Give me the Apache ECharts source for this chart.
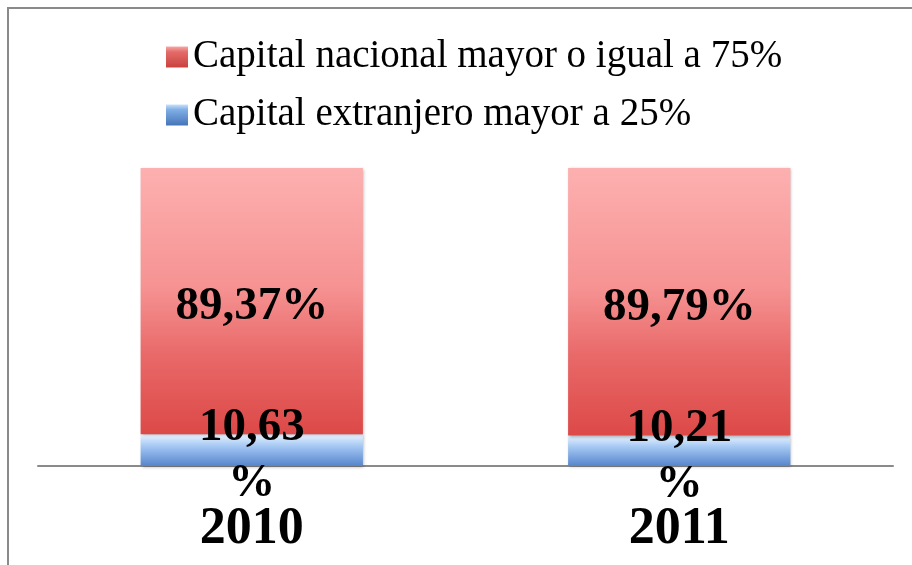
<!DOCTYPE html>
<html><head><meta charset="utf-8">
<script src="https://cdn.jsdelivr.net/npm/echarts@6/dist/echarts.min.js"></script>
<style>html,body{margin:0;padding:0;background:#fff}#c{width:912px;height:565px}</style>
</head><body><div id="c"></div>
<script>
const categories = ['2010', '2011'];
const nacional = [89.37, 89.79];
const extranjero = [10.63, 10.21];
const seriesNames = ['Capital nacional mayor o igual a 75%', 'Capital extranjero mayor a 25%'];

const fmt = v => v.toFixed(2).replace('.', ',');
const chart = echarts.init(document.getElementById('c'));
const G = echarts.graphic.LinearGradient;
const redGrad = new G(0, 0, 0, 1, [
  {offset: 0, color: '#FDB0B0'}, {offset: 0.45, color: '#F69292'},
  {offset: 0.7, color: '#E96969'}, {offset: 1, color: '#DC4947'}]);
const blueGrad = new G(0, 0, 0, 1, [
  {offset: 0, color: '#EAF4FF'}, {offset: 0.35, color: '#A8CAF4'}, {offset: 1, color: '#5585CC'}]);
const redIcon = new G(0, 0, 0, 1, [
  {offset: 0, color: '#F6A9A7'}, {offset: 0.25, color: '#E46C69'}, {offset: 1, color: '#C9423F'}]);
const blueIcon = new G(0, 0, 0, 1, [
  {offset: 0, color: '#C9E0FA'}, {offset: 0.25, color: '#80AEE6'}, {offset: 1, color: '#4475B8'}]);
const font = 'Liberation Serif';
chart.setOption({
  animation: false,
  graphic: [{type: 'rect', shape: {x: 8, y: 8, width: 1000, height: 1000},
    style: {fill: 'none', stroke: '#8a8a8a', lineWidth: 2}, silent: true}],
  legend: {
    orient: 'vertical', left: 161, top: 32, itemWidth: 22, itemHeight: 21, itemGap: 18,
    data: [{name: seriesNames[0], itemStyle: {color: redIcon}},
           {name: seriesNames[1], itemStyle: {color: blueIcon}}], icon: 'rect',
    textStyle: {fontFamily: font, fontSize: 39, lineHeight: 40, color: '#000'}
  },
  grid: {left: 38, right: 19, top: 168, bottom: 99},
  xAxis: {
    type: 'category', data: categories,
    axisLine: {lineStyle: {color: '#8a8a8a', width: 2}}, axisTick: {show: false},
    axisLabel: {fontFamily: font, fontSize: 52, fontWeight: 'bold', color: '#000', margin: 38, lineHeight: 52}
  },
  yAxis: {type: 'value', min: 0, max: 100, show: false, splitLine: {show: false}},
  series: [
    {name: seriesNames[1], type: 'bar', stack: 's', data: extranjero, barCategoryGap: '48%',
     itemStyle: {color: blueGrad, shadowBlur: 3, shadowColor: 'rgba(0,0,0,0.3)', shadowOffsetX: 1, shadowOffsetY: 1},
     label: {show: true, position: 'inside', formatter: p => fmt(p.value) + '\n%', offset: [0, 6],
       fontFamily: font, fontSize: 47, fontWeight: 'bold', color: '#000', lineHeight: 56}},
    {name: seriesNames[0], type: 'bar', stack: 's', data: nacional, barCategoryGap: '48%',
     itemStyle: {color: redGrad, shadowBlur: 3, shadowColor: 'rgba(0,0,0,0.3)', shadowOffsetX: 1, shadowOffsetY: 1},
     label: {show: true, position: 'inside', formatter: p => fmt(p.value) + '%', offset: [0, 6],
       fontFamily: font, fontSize: 47, fontWeight: 'bold', color: '#000'}}
  ]
});
</script></body></html>
